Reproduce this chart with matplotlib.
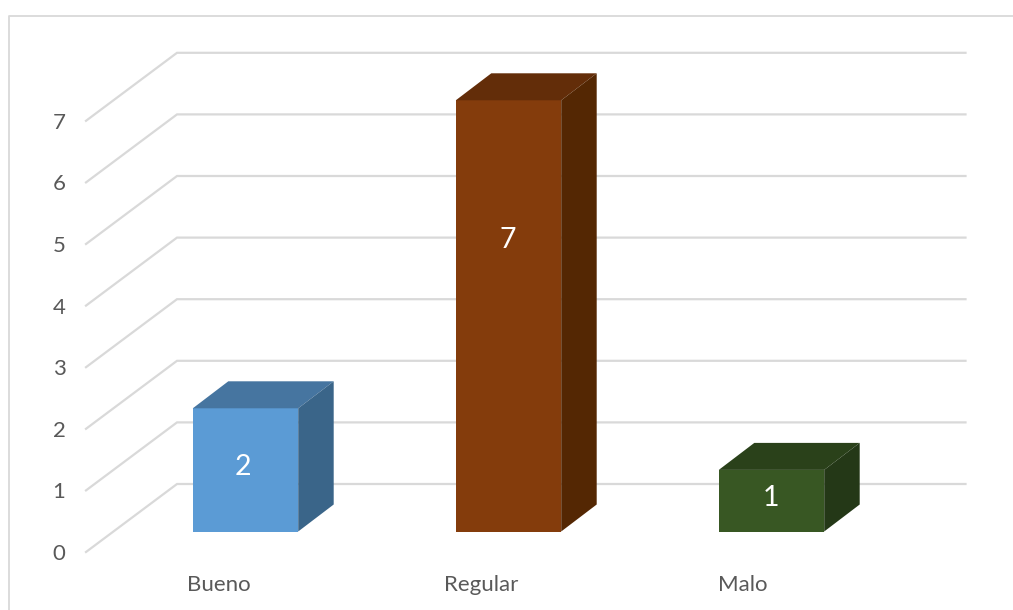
from matplotlib import pyplot as plt
from matplotlib.patches import Polygon

plt.rcParams['font.family'] = ['Lato', 'DejaVu Sans']

categories = ['Bueno', 'Regular', 'Malo']
values = [2, 7, 1]
y_ticks = [0, 1, 2, 3, 4, 5, 6, 7]

front_colors = ['#5B9BD5', '#843C0C', '#385723']
top_colors = ['#4675A0', '#632D09', '#2A411A']
side_colors = ['#3A6589', '#542703', '#243817']

# where the labels sit inside the bars, in px off the bar centre / value units
label_dx = [-3, -1, -1]
label_y = [1.05, 4.74, 0.54]
name_dx = [-27, -27, -29]

# scale of the picture, one category = 263 px, one unit = 61.6 px
px_x = 1 / 263
px_y = 1 / 61.6

fig = plt.figure(figsize=(10.13, 6.10), dpi=100)
ax = fig.add_axes([0, 0, 1, 1])
ax.set_xlim(-245.5 * px_x, (1013 - 245.5) * px_x)
ax.set_ylim(-(610 - 531.5) * px_y, 531.5 * px_y)
ax.axis('off')

# outer frame of the chart area
frame_x = -236.5 * px_x
frame_y = 515.5 * px_y
ax.plot([frame_x, frame_x, 767.5 * px_x], [-78.5 * px_y, frame_y, frame_y],
        color='#D9D9D9', lw=1.3, zorder=1)

# walls: diagonal on the side wall, straight on the back wall
for v in y_ticks:
    ax.plot([-159.5 * px_x, -68.5 * px_x, 720 * px_x],
            [v - 20.5 * px_y, v + 47.5 * px_y, v + 47.5 * px_y],
            color='#D9D9D9', lw=1.6, zorder=1, solid_joinstyle='miter')
    ax.text(-186.5 * px_x, v - 22.5 * px_y, str(v), color='#595959', fontsize=16,
            ha='center', va='center')

# bars
half = 52.7 * px_x
dx = 35.5 * px_x
dy = 27 * px_y
for i, v in enumerate(values):
    ax.add_patch(Polygon([(i - half, 0), (i + half, 0), (i + half, v), (i - half, v)],
                         color=front_colors[i], lw=0, zorder=3))
    ax.add_patch(Polygon([(i - half, v), (i + half, v), (i + half + dx, v + dy), (i - half + dx, v + dy)],
                         color=top_colors[i], lw=0, zorder=3))
    ax.add_patch(Polygon([(i + half, 0), (i + half + dx, dy), (i + half + dx, v + dy), (i + half, v)],
                         color=side_colors[i], lw=0, zorder=3))
    ax.text(i + label_dx[i] * px_x, label_y[i], str(v), color='white', fontsize=20.5,
            ha='center', va='center', zorder=4)

# category labels sit left of the bar centre
for i, name in enumerate(categories):
    ax.text(i + name_dx[i] * px_x, -53.5 * px_y, name, color='#595959', fontsize=16,
            ha='center', va='center')

plt.savefig('out.png', dpi=100)
